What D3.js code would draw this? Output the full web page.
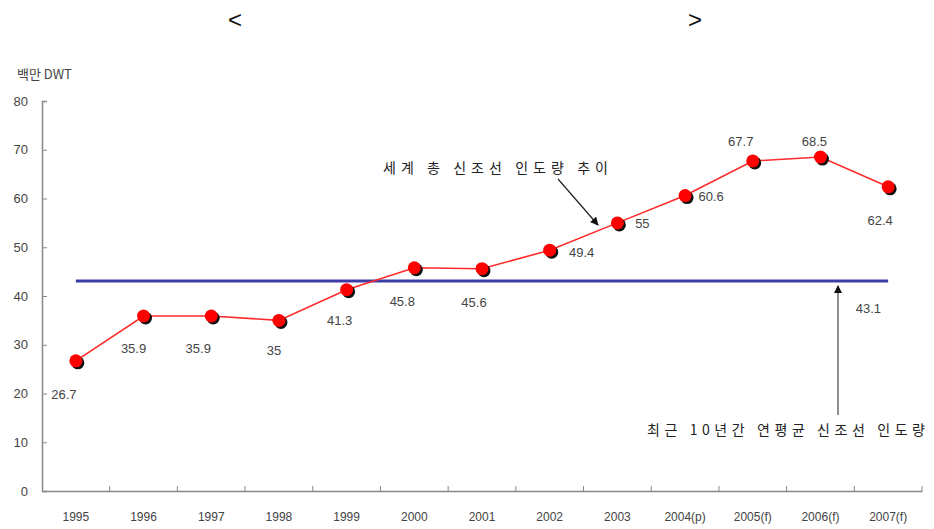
<!DOCTYPE html>
<html><head><meta charset="utf-8">
<script src="https://cdn.jsdelivr.net/npm/d3@7"></script>
<style>body{margin:0;background:#fff}svg{display:block}</style>
</head><body>
<svg id="chart" width="934" height="529"></svg>
<script>
const categories = ["1995","1996","1997","1998","1999","2000","2001","2002","2003","2004(p)","2005(f)","2006(f)","2007(f)"];
const values = [26.7,35.9,35.9,35,41.3,45.8,45.6,49.4,55,60.6,67.7,68.5,62.4];
const average = 43.1;
const yTicks = [0,10,20,30,40,50,60,70,80];
const unitLabel = "백만 DWT";
const trendLabel = "세계 총 신조선 인도량 추이";
const avgLabel = "최근 10년간 연평균 신조선 인도량";
// label placement (offsets from each point), kept apart from data
const labelOffsets = [[-12,34],[-10,32],[-13,32],[-5,30],[-7,31],[-12,34],[-8,34],[32,2],[25,1],[26,1],[-12,-20],[-6,-16],[-8,34]];

const svg = d3.select("#chart");
const numFont = "'Liberation Sans', Arial, sans-serif";
const korFont = "'Noto Sans CJK KR', sans-serif";

const x = d3.scaleBand().domain(categories).range([42, 922]).paddingInner(0).paddingOuter(0);
const y = d3.scaleLinear().domain([0, 80]).range([491, 101]);
const cx = c => x(c) + x.bandwidth() / 2;

// title brackets
svg.append("text").attr("x", 235).attr("y", 28).attr("text-anchor","middle")
  .attr("font-family", numFont).attr("font-size", 24).attr("fill","#111").text("<");
svg.append("text").attr("x", 695).attr("y", 28).attr("text-anchor","middle")
  .attr("font-family", numFont).attr("font-size", 24).attr("fill","#111").text(">");

// unit label
svg.append("text").attr("x", 17).attr("y", 79).attr("font-family", korFont)
  .attr("font-size", 13).attr("fill","#444").text(unitLabel);

// y axis
const yAxis = svg.append("g").attr("transform","translate(42,0)")
  .call(d3.axisLeft(y).tickValues(yTicks).tickSize(-5).tickPadding(14));
yAxis.select(".domain").attr("stroke","#888").attr("stroke-width",1.5);
yAxis.selectAll(".tick line").attr("stroke","#888");
yAxis.selectAll(".tick text").attr("font-family", numFont).attr("font-size",13).attr("fill","#444");

// x axis
const xAxis = svg.append("g").attr("transform","translate(0,491)")
  .call(d3.axisBottom(x).tickSize(0).tickPadding(21).tickSizeOuter(0));
xAxis.select(".domain").attr("stroke","#888").attr("stroke-width",1.5);
xAxis.selectAll(".tick text").attr("font-family", numFont).attr("font-size",12).attr("fill","#444");
svg.append("g").selectAll("line").data(categories).join("line")
  .attr("x1", c => x(c) + x.bandwidth()).attr("x2", c => x(c) + x.bandwidth())
  .attr("y1", 491).attr("y2", 486).attr("stroke","#888");

// average line
svg.append("line")
  .attr("x1", cx(categories[0])).attr("x2", cx(categories[categories.length-1]))
  .attr("y1", y(average)).attr("y2", y(average))
  .attr("stroke","#3c3ca8").attr("stroke-width",3);

// arrow markers
const defs = svg.append("defs");
defs.append("marker").attr("id","arr").attr("viewBox","0 0 10 10").attr("refX",9).attr("refY",5)
  .attr("markerWidth",7).attr("markerHeight",7).attr("orient","auto")
  .append("path").attr("d","M0,0 L10,5 L0,10 z").attr("fill","#111");

// series line
const line = d3.line().x((d,i) => cx(categories[i])).y(d => y(d));
svg.append("path").datum(values).attr("d", line).attr("fill","none")
  .attr("stroke","#ff2a2a").attr("stroke-width",1.6);

// markers with shadows
svg.append("g").selectAll("circle").data(values).join("circle")
  .attr("cx", (d,i) => cx(categories[i]) + 2).attr("cy", d => y(d) + 2).attr("r", 6.5).attr("fill","#111");
svg.append("g").selectAll("circle").data(values).join("circle")
  .attr("cx", (d,i) => cx(categories[i])).attr("cy", d => y(d)).attr("r", 6.5).attr("fill","#ff0000");

// value labels
svg.append("g").selectAll("text").data(values).join("text")
  .attr("x", (d,i) => cx(categories[i]) + labelOffsets[i][0])
  .attr("y", (d,i) => y(d) + labelOffsets[i][1])
  .attr("dy","0.35em").attr("text-anchor","middle")
  .attr("font-family", numFont).attr("font-size",13).attr("fill","#444")
  .text(d => d);

// average label
svg.append("text").attr("x", cx(categories[11]) + 48).attr("y", y(average) + 28)
  .attr("dy","0.35em").attr("text-anchor","middle")
  .attr("font-family", numFont).attr("font-size",13).attr("fill","#444").text(average);

// trend annotation
svg.append("text").attr("x", 383).attr("y", 168).attr("dy","0.35em")
  .attr("textLength", 225).attr("lengthAdjust","spacing")
  .attr("font-family", korFont).attr("font-size",14).attr("fill","#222").text(trendLabel);
svg.append("line").attr("x1", 558).attr("y1", 179).attr("x2", 598).attr("y2", 225)
  .attr("stroke","#222").attr("stroke-width",1.2).attr("marker-end","url(#arr)");

// average annotation
const ax = 838;
svg.append("line").attr("x1", ax).attr("y1", 415).attr("x2", ax).attr("y2", y(average) + 5)
  .attr("stroke","#444").attr("stroke-width",1.2).attr("marker-end","url(#arr)");
svg.append("text").attr("x", 647).attr("y", 430).attr("dy","0.35em")
  .attr("textLength", 278).attr("lengthAdjust","spacing")
  .attr("font-family", korFont).attr("font-size",14).attr("fill","#222").text(avgLabel);
</script>
</body></html>
